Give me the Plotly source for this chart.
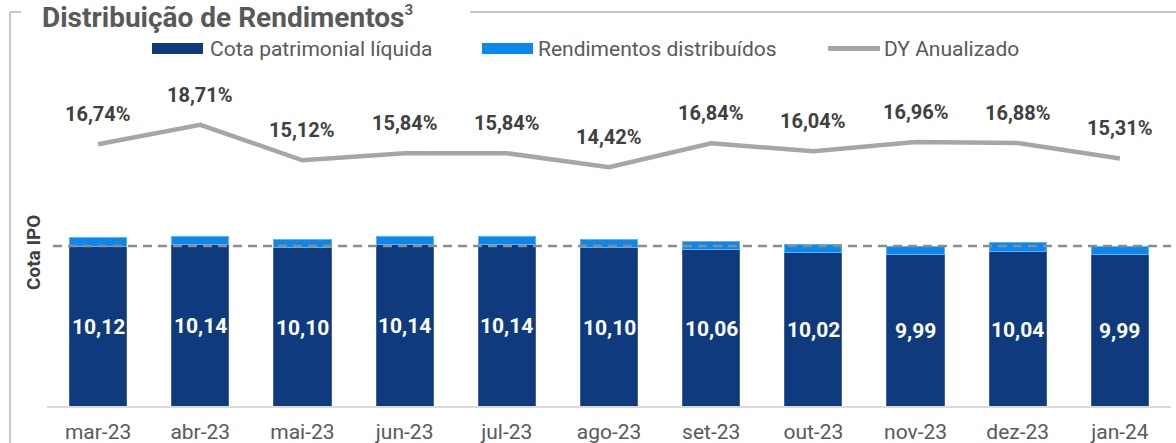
import plotly.graph_objects as go

# ---- data ----
meses = ['mar-23', 'abr-23', 'mai-23', 'jun-23', 'jul-23', 'ago-23',
         'set-23', 'out-23', 'nov-23', 'dez-23', 'jan-24']
cota_patrimonial = [10.12, 10.14, 10.10, 10.14, 10.14, 10.10, 10.06, 10.02, 9.99, 10.04, 9.99]
rendimentos = [0.13, 0.13, 0.13, 0.13, 0.13, 0.13, 0.13, 0.13, 0.12, 0.13, 0.12]
dy_anualizado = [16.74, 18.71, 15.12, 15.84, 15.84, 14.42, 16.84, 16.04, 16.96, 16.88, 15.31]
cota_ipo = 10.12

# ---- geometry (pixels) ----
W, H = 1176, 443
L, R, T, B = 47, 5, 60, 37
PW, PH = W - L - R, H - T - B


def px(x):
    return (x - L) / PW


def py(y):
    return (H - B - y) / PH


DARK = '#0f3a7d'
LIGHT = '#0a88ec'
GRAY_LINE = '#a6a6a6'
TXT = '#595959'
FONT = 'Roboto'
ymin = 7.569

fmt = lambda v: f'{v:.2f}'.replace('.', ',')

fig = go.Figure()
fig.add_trace(go.Bar(
    x=meses, y=cota_patrimonial, name='Cota patrimonial líquida',
    marker=dict(color=DARK, line=dict(color='#3c62a0', width=1)),
    showlegend=False, hoverinfo='skip'))
fig.add_trace(go.Bar(
    x=meses, y=rendimentos, name='Rendimentos distribuídos',
    marker=dict(color=LIGHT, line=dict(color='#5fb2f3', width=1)),
    showlegend=False, hoverinfo='skip'))
fig.add_trace(go.Scatter(
    x=meses, y=dy_anualizado, name='DY Anualizado', yaxis='y2',
    mode='lines', line=dict(color=GRAY_LINE, width=4.5),
    showlegend=False, hoverinfo='skip'))

annotations = []
# bar value labels (centred in the visible dark bar)
for m, v in zip(meses, cota_patrimonial):
    annotations.append(dict(
        x=m, y=ymin + (v - ymin) / 2, xref='x', yref='y', showarrow=False,
        text=fmt(v), yshift=-1,
        font=dict(family=FONT, size=21, color='white', weight='bold')))
# DY labels
for m, v in zip(meses, dy_anualizado):
    annotations.append(dict(
        x=m, y=v, xref='x', yref='y2', yshift=30, showarrow=False,
        text=fmt(v) + '%',
        font=dict(family=FONT, size=20, color='#404040', weight='bold')))

# title
annotations.append(dict(
    x=px(40), y=py(17), xref='paper', yref='paper', xanchor='left', yanchor='middle',
    showarrow=False,
    text='Distribuição de Rendimentos<sup><span style="font-size:15px">3</span></sup>',
    font=dict(family=FONT, size=28, color=TXT, weight='bold')))
# Cota IPO label
annotations.append(dict(
    x=px(33), y=py(253), xref='paper', yref='paper', textangle=-90,
    xanchor='center', yanchor='middle',
    showarrow=False, text='Cota IPO',
    font=dict(family=FONT, size=19, color='#404040', weight='bold')))

# custom legend
leg = [('Cota patrimonial líquida', 152, 208, 'rect', DARK),
       ('Rendimentos distribuídos', 482, 536, 'rect', LIGHT),
       ('DY Anualizado', 828, 882, 'line', GRAY_LINE)]
shapes = []
for name, sx, tx, kind, col in leg:
    if kind == 'rect':
        shapes.append(dict(type='rect', xref='paper', yref='paper',
                           x0=px(sx), x1=px(sx + 51), y0=py(54), y1=py(43),
                           fillcolor=col, line=dict(width=0)))
    else:
        shapes.append(dict(type='line', xref='paper', yref='paper',
                           x0=px(sx), x1=px(sx + 52), y0=py(48.5), y1=py(48.5),
                           line=dict(color=col, width=5)))
    annotations.append(dict(
        x=px(tx), y=py(48.5), xref='paper', yref='paper', xanchor='left',
        yanchor='middle', showarrow=False, text=name,
        font=dict(family=FONT, size=21, color=TXT)))

# Cota IPO dashed line
shapes.append(dict(type='line', xref='paper', yref='y', x0=px(53), x1=1,
                   y0=cota_ipo, y1=cota_ipo, layer='above',
                   line=dict(color='#8c8c8c', width=2.5, dash='9px,6px')))

# frame lines
FR = '#c8c8c8'
shapes.append(dict(type='line', xref='paper', yref='paper', x0=px(10), x1=px(10),
                   y0=py(12), y1=py(H + 5), line=dict(color=FR, width=2)))
shapes.append(dict(type='line', xref='paper', yref='paper', x0=px(10), x1=px(21),
                   y0=py(12), y1=py(12), line=dict(color=FR, width=2)))
shapes.append(dict(type='line', xref='paper', yref='paper', x0=px(470), x1=px(W + 5),
                   y0=py(12), y1=py(12), line=dict(color=FR, width=2)))

fig.update_layout(
    width=W, height=H, margin=dict(l=L, r=R, t=T, b=B),
    paper_bgcolor='white', plot_bgcolor='white',
    barmode='stack', bargap=0.44,
    xaxis=dict(showline=True, linecolor='#d9d9d9', linewidth=2, showgrid=False,
               automargin=False,
               ticks='outside', ticklen=6, tickcolor='rgba(0,0,0,0)',
               tickfont=dict(family=FONT, size=21, color=TXT)),
    yaxis=dict(range=[ymin, ymin + PH / 62.7], visible=False, showgrid=False,
               automargin=False),
    yaxis2=dict(range=[16.74 - (H - B - 144.3) / 9.9, 16.74 + (144.3 - T) / 9.9],
                overlaying='y', side='right', visible=False, showgrid=False,
                automargin=False),
    shapes=shapes, annotations=annotations, showlegend=False,
)

fig.write_html('out.html', config={'displayModeBar': False},
               post_script="document.body.style.margin='0';")
